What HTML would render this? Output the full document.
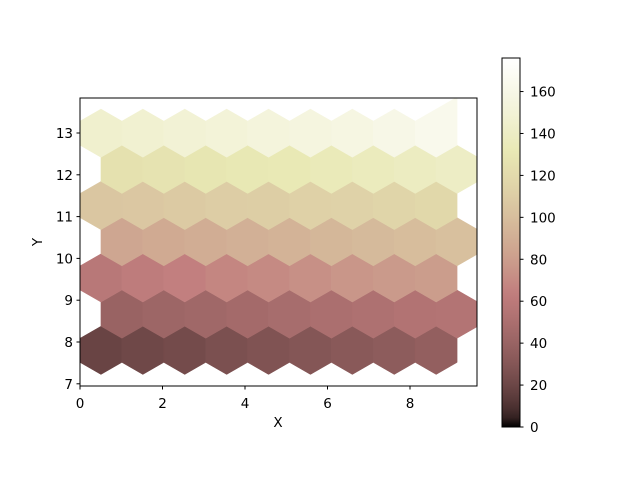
<!DOCTYPE html>
<html><head><meta charset="utf-8"><style>
body{margin:0;background:#fff}
svg{display:block;font-family:"DejaVu Sans","Liberation Sans",sans-serif}
</style></head><body>
<svg id="chart" width="640" height="480" viewBox="0 0 640 480" xmlns="http://www.w3.org/2000/svg">
<defs><clipPath id="plotclip"><rect x="80" y="98" width="397" height="288"/></clipPath>
<linearGradient id="cbgrad" x1="0" y1="1" x2="0" y2="0"></linearGradient></defs>
<g id="hexes" clip-path="url(#plotclip)"></g>
<rect x="80" y="98" width="397" height="288" fill="none" stroke="#000" stroke-width="1"/>
<g id="axes"></g>
<text x="278" y="427" font-size="13.5" text-anchor="middle">X</text>
<text x="42" y="242" font-size="13.5" text-anchor="middle" transform="rotate(-90 42 242)">Y</text>
<rect x="502" y="58" width="18" height="369" fill="url(#cbgrad)" stroke="#000" stroke-width="1"/>
<g id="cbaxis"></g>
</svg>
<script>
const rowYs = [7.8, 8.666, 9.532, 10.398, 11.264, 12.13, 12.996];
const rowVals = [
 [19,21,23,26,28,30,32,34,37],
 [40,42,44,46,48,50,52,54,55],
 [58,62,65,68,70,73,76,78,80],
 [85,87,89,91,93,95,97,99,101],
 [105,106,108,110,111,113,114,116,118],
 [125,127,129,131,132,134,136,138,140],
 [145,147,149,151,153,155,157,160,163]
];
const xTicks = [0,2,4,6,8];
const yTicks = [7,8,9,10,11,12,13];
const cbTicks = [0,20,40,60,80,100,120,140,160];
const vmax = 176;
const NS='http://www.w3.org/2000/svg';
function sx(v){return 80+v*41.25;}
function sy(v){return 342-(v-8)*41.8;}
function cy(v){return 427-v/vmax*369;}
function pink(t){
  t=Math.max(0,Math.min(1,t));
  const hr=Math.min(1,t/0.365), hg=Math.max(0,Math.min(1,(t-0.365)/0.381)), hb=Math.max(0,Math.min(1,(t-0.746)/0.254));
  const f=h=>Math.round(255*Math.sqrt((2*t+h)/3));
  return `rgb(${f(hr)},${f(hg)},${f(hb)})`;
}
const hexG=document.getElementById('hexes');
const HW=20.95;
rowYs.forEach((yv,r)=>{
  const last=rowVals[r].length-1;
  rowVals[r].forEach((val,i)=>{
    const cx=(r%2===0)?80+HW*(2*i+1):80+HW*(2*i+2);
    const cyy=sy(yv), hw=HW, rv=24.1;
    let P=[[cx,cyy-rv],[cx+hw,cyy-rv/2],[cx+hw,cyy+rv/2],[cx,cyy+rv],[cx-hw,cyy+rv/2],[cx-hw,cyy-rv/2]];
    if(r===rowYs.length-1 && i===last){
      // top-right cell is stretched up to the plot edge in the reference
      P=[[cx-hw,cyy-rv/2],[cx+hw,cyy-rv-12],[cx+hw,cyy+rv/2],[cx,cyy+rv],[cx-hw,cyy+rv/2]];
    }
    const p=document.createElementNS(NS,'polygon');
    p.setAttribute('points',P.map(q=>q.join(',')).join(' '));
    p.setAttribute('fill',pink(val/vmax));
    p.setAttribute('stroke',pink(val/vmax));p.setAttribute('stroke-width','0.5');
    
    
    hexG.appendChild(p);
  });
});
const ax=document.getElementById('axes');
function line(x1,y1,x2,y2){const l=document.createElementNS(NS,'line');l.setAttribute('x1',x1);l.setAttribute('y1',y1);l.setAttribute('x2',x2);l.setAttribute('y2',y2);l.setAttribute('stroke','#000');return l;}
function text(x,y,s,anchor){const t=document.createElementNS(NS,'text');t.setAttribute('x',x);t.setAttribute('y',y);t.setAttribute('font-size','13.5');t.setAttribute('text-anchor',anchor);t.textContent=s;return t;}
xTicks.forEach(v=>{
  const l=line(sx(v),386,sx(v),389.5);
  
  
  ax.appendChild(l);
  const t=text(sx(v),408,String(v),'middle');
  
  
  ax.appendChild(t);
});
yTicks.forEach(v=>{
  const l=line(76.5,sy(v),80,sy(v));
  
  
  ax.appendChild(l);
  const t=text(73,sy(v)+5,String(v),'end');
  
  
  ax.appendChild(t);
});
const grad=document.getElementById('cbgrad');
for(let i=0;i<=40;i++){const s=document.createElementNS(NS,'stop');s.setAttribute('offset',i/40);s.setAttribute('stop-color',pink(i/40));grad.appendChild(s);}
const cb=document.getElementById('cbaxis');
cbTicks.forEach(v=>{
  const l=line(520,cy(v),523.5,cy(v));
  
  
  cb.appendChild(l);
  const t=text(530,cy(v)+5,String(v),'start');
  
  
  cb.appendChild(t);
});
</script>
</body></html>
